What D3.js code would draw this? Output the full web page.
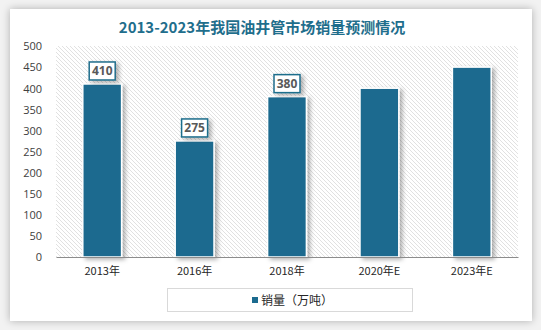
<!DOCTYPE html>
<html>
<head>
<meta charset="utf-8">
<script src="https://cdn.jsdelivr.net/npm/d3@7"></script>
<style>
  html, body { margin: 0; padding: 0; background: #f2f2f2; }
  body { width: 541px; height: 330px; overflow: hidden; position: relative; }
  #card { position: absolute; left: 10px; top: 9px; width: 522px; height: 312px; background: #fff;
          box-shadow: 0 0 8px rgba(0,0,0,0.28); }
  svg { position: absolute; left: 0; top: 0; }
</style>
</head>
<body>
<div id="card"></div>
<svg id="chart" width="541" height="330"></svg>
<script>
// 2013-2023 oil country tubular goods market sales (10k tonnes)
const categories = ["2013年", "2016年", "2018年", "2020年E", "2023年E"];
const sales = [410, 275, 380, 400, 450];
const labelled = [true, true, true, false, false];
const yTicks = [0, 50, 100, 150, 200, 250, 300, 350, 400, 450, 500];
const titleText = "2013-2023年我国油井管市场销量预测情况";
const legendText = "销量（万吨）";

const barColor = "#1c6b8f";
const svg = d3.select("#chart");
const margin = { left: 56, right: 518, top: 46, bottom: 257 };

const defs = svg.append("defs");
const pat = defs.append("pattern").attr("id", "hatch").attr("patternUnits", "userSpaceOnUse")
  .attr("width", 4).attr("height", 4);
pat.append("rect").attr("width", 4).attr("height", 4).attr("fill", "#fff");
pat.append("path").attr("d", "M-1,-1 L5,5 M-1,3 L1,5 M3,-1 L5,1")
  .attr("stroke", "#dedede").attr("stroke-width", 0.9);

const sh = defs.append("filter").attr("id", "shadow").attr("x", "-30%").attr("y", "-30%")
  .attr("width", "160%").attr("height", "160%");
sh.append("feDropShadow").attr("dx", 3).attr("dy", 2).attr("stdDeviation", 2)
  .attr("flood-color", "#000").attr("flood-opacity", 0.3);

const x = d3.scaleBand().domain(categories).range([margin.left, margin.right]).paddingInner(0.58).paddingOuter(0.29);
const y = d3.scaleLinear().domain([0, 500]).range([margin.bottom, margin.top]);

// title
svg.append("text").attr("x", 262).attr("y", 33).attr("text-anchor", "middle")
  .attr("font-family", "'Noto Sans CJK SC', sans-serif").attr("font-weight", "bold")
  .attr("font-size", 15).attr("fill", "#1f6e8c").text(titleText);

// plot background
svg.append("rect").attr("x", margin.left).attr("y", margin.top)
  .attr("width", margin.right - margin.left).attr("height", margin.bottom - margin.top)
  .attr("fill", "url(#hatch)");

// y axis labels
const yAxis = d3.axisLeft(y).tickValues(yTicks).tickSize(0).tickPadding(0);
const ya = svg.append("g").attr("transform", `translate(42,0)`).call(yAxis);
ya.select(".domain").remove();
ya.selectAll("text").attr("font-family", "'Open Sans', 'Noto Sans', sans-serif").attr("font-size", 11)
  .attr("fill", "#404040").attr("dy", "0.35em");

// bars
svg.append("g").selectAll("rect").data(sales).join("rect")
  .attr("x", (d, i) => x(categories[i]))
  .attr("y", d => y(d))
  .attr("width", x.bandwidth())
  .attr("height", d => y(0) - y(d))
  .attr("fill", barColor).attr("stroke", "#fff").attr("stroke-width", 1.5)
  .attr("filter", "url(#shadow)");

// x axis
const xAxis = d3.axisBottom(x).tickSize(0).tickPadding(10);
const xa = svg.append("g").attr("transform", `translate(0,${margin.bottom})`).call(xAxis);
xa.select(".domain").attr("stroke", "#8c8c8c").attr("stroke-width", 1.2);
xa.selectAll("text").attr("font-family", "'Noto Sans CJK SC', sans-serif").attr("font-size", 11)
  .attr("fill", "#262626");

// value labels
const lab = svg.append("g").selectAll("g").data(sales.map((v, i) => ({ v, i }))
  .filter(d => labelled[d.i])).join("g")
  .attr("transform", d => `translate(${x(categories[d.i]) + x.bandwidth() / 2},${y(d.v) - 13})`);
lab.append("rect").attr("x", -13).attr("y", -9).attr("width", 26).attr("height", 18)
  .attr("fill", "#fff").attr("stroke", "#1f6e8c").attr("stroke-width", 1.5)
  .attr("filter", "url(#shadow)");
lab.append("text").attr("text-anchor", "middle").attr("dy", "0.36em")
  .attr("font-family", "'Open Sans', sans-serif").attr("font-weight", "bold").attr("font-size", 12)
  .attr("fill", "#595959").text(d => d.v);

// legend
svg.append("rect").attr("x", 167.5).attr("y", 288.5).attr("width", 245).attr("height", 23)
  .attr("fill", "#fff").attr("stroke", "#d9d9d9").attr("stroke-width", 1);
svg.append("rect").attr("x", 252).attr("y", 297).attr("width", 6).attr("height", 6).attr("fill", barColor);
svg.append("text").attr("x", 261).attr("y", 304.5).attr("font-family", "'Noto Sans CJK SC', sans-serif")
  .attr("font-size", 12).attr("fill", "#262626").text(legendText);
</script>
</body>
</html>
